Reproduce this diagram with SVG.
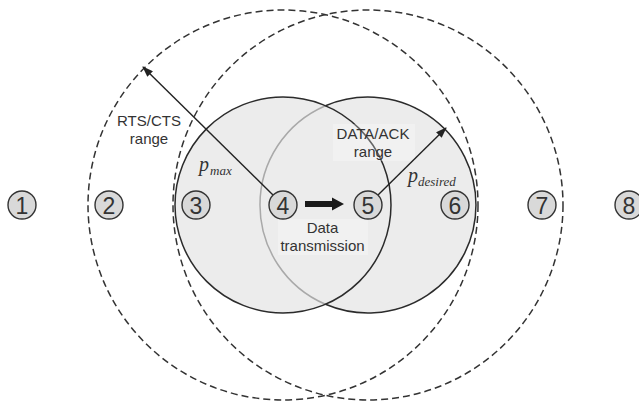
<svg xmlns="http://www.w3.org/2000/svg" width="639" height="401" viewBox="0 0 639 401">
<style>
.area{fill:#ececec;stroke:none}
.dash{fill:none;stroke:#333;stroke-width:1.5;stroke-dasharray:7 4}
.edge{fill:none;stroke:#2b2b2b;stroke-width:1.5}
.edge-light{fill:none;stroke:#a9a9a9;stroke-width:1.5}
.node circle{fill:#d9d9d9;stroke:#333;stroke-width:1.4}
.node text{font-family:"Liberation Sans",Arial,sans-serif;font-size:23px;fill:#333;text-anchor:middle}
.lbl{font-family:"Liberation Sans",Arial,sans-serif;font-size:15px;fill:#333;text-anchor:middle}
.math{font-family:"Liberation Serif","Times New Roman",serif;font-style:italic;fill:#333}
.conn{fill:none;stroke:#222;stroke-width:1.4}
.txtbg{fill:#ffffff;fill-opacity:0.28;stroke:none}
</style>
<defs>
<marker id="ah" markerUnits="userSpaceOnUse" markerWidth="11" markerHeight="8" refX="10" refY="4" orient="auto">
<path d="M0,0 L11,4 L0,8 Z" fill="#222"/>
</marker>
</defs>

<g id="ranges">
<circle class="area" cx="368" cy="205" r="108"/>
<circle class="area" cx="283" cy="205" r="108"/>
<path class="edge-light" d="M325.5,105.7 A108,108 0 0 0 325.5,304.3"/>
<path class="edge" d="M325.5,105.7 A108,108 0 1 1 325.5,304.3"/>
<circle class="edge" cx="283" cy="205" r="108"/>
<circle class="dash" cx="283" cy="205" r="195"/>
<circle class="dash" cx="368" cy="205" r="195"/>
<rect class="txtbg" x="333" y="124" width="82" height="37"/>
<rect class="txtbg" x="278" y="219" width="90" height="36"/>
</g>

<g id="labels">
<text class="lbl" x="149" y="126">RTS/CTS</text>
<text class="lbl" x="149" y="144">range</text>
<text class="lbl" x="373" y="139">DATA/ACK</text>
<text class="lbl" x="373" y="157">range</text>
<text class="lbl" x="322.5" y="233">Data</text>
<text class="lbl" x="322.5" y="251">transmission</text>
<text class="math" x="199" y="171" font-size="20">p</text>
<text class="math" x="210" y="175" font-size="13">max</text>
<text class="math" x="408" y="182" font-size="20">p</text>
<text class="math" x="418" y="186" font-size="13">desired</text>
</g>

<g id="connectors">
<line class="conn" x1="273" y1="195" x2="143" y2="67" marker-end="url(#ah)"/>
<line class="conn" x1="378" y1="195" x2="446" y2="128" marker-end="url(#ah)"/>
<path d="M305,201 L332,201 L332,197.5 L344,204 L332,210.5 L332,207 L305,207 Z" fill="#1a1a1a"/>
</g>

<g id="node1" class="node"><circle cx="22" cy="205" r="14"/><text x="22" y="213.5">1</text></g>
<g id="node2" class="node"><circle cx="109" cy="205" r="14"/><text x="109" y="213.5">2</text></g>
<g id="node3" class="node"><circle cx="196" cy="205" r="14"/><text x="196" y="213.5">3</text></g>
<g id="node4" class="node"><circle cx="283" cy="205" r="14"/><text x="283" y="213.5">4</text></g>
<g id="node5" class="node"><circle cx="368" cy="205" r="14"/><text x="368" y="213.5">5</text></g>
<g id="node6" class="node"><circle cx="455" cy="205" r="14"/><text x="455" y="213.5">6</text></g>
<g id="node7" class="node"><circle cx="542" cy="205" r="14"/><text x="542" y="213.5">7</text></g>
<g id="node8" class="node"><circle cx="629" cy="205" r="14"/><text x="629" y="213.5">8</text></g>
</svg>
